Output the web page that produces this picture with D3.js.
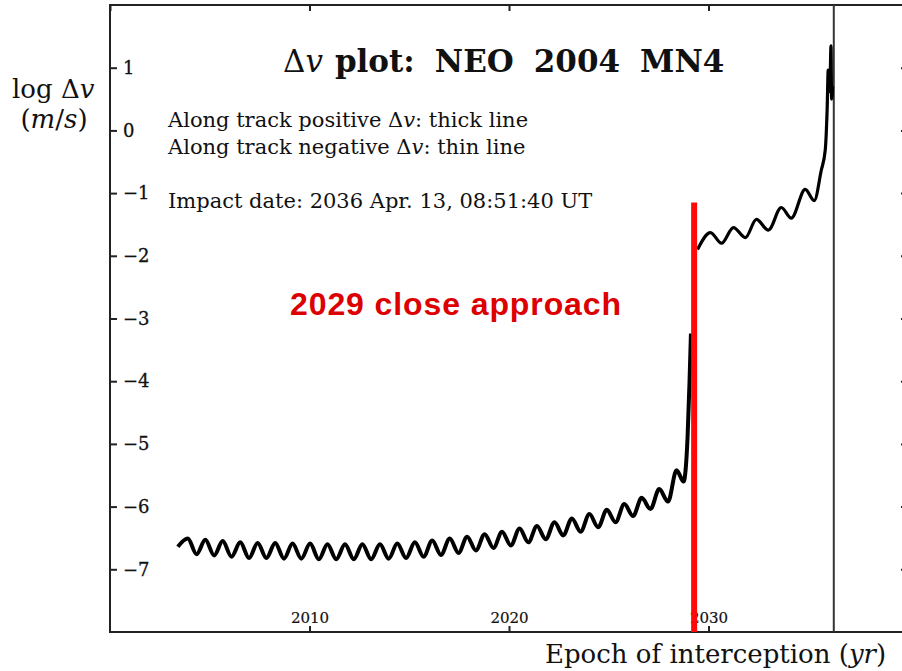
<html>
<head>
<meta charset="utf-8">
<title>Delta v plot NEO 2004 MN4</title>
<script src="https://d3js.org/d3.v7.min.js" charset="utf-8"></script>
<style>
  body { margin: 0; background: #fff; }
  text { font-family: "DejaVu Serif", serif; fill: #111; }
</style>
</head>
<body>
<script>
var width = 902,
    height = 671;

// log dv before the 2029 close approach (peaks and troughs)
var preYears = [2003.40, 2003.90, 2004.34, 2004.78, 2005.22, 2005.65, 2006.09, 2006.53, 2006.97, 2007.40,
  2007.84, 2008.28, 2008.72, 2009.15, 2009.59, 2010.03, 2010.47, 2010.90, 2011.34, 2011.78,
  2012.22, 2012.65, 2013.09, 2013.53, 2013.97, 2014.40, 2014.84, 2015.28, 2015.72, 2016.15,
  2016.59, 2017.03, 2017.47, 2017.90, 2018.34, 2018.78, 2019.22, 2019.65, 2020.09, 2020.53,
  2020.97, 2021.40, 2021.84, 2022.28, 2022.72, 2023.15, 2023.59, 2024.03, 2024.47, 2024.90,
  2025.34, 2025.78, 2026.22, 2026.65, 2027.09, 2027.53, 2027.97, 2028.40, 2028.75, 2028.95,
  2029.05, 2029.12];
var preVals = [-6.64, -6.51, -6.76, -6.53, -6.78, -6.55, -6.80, -6.57, -6.82, -6.58,
  -6.82, -6.58, -6.83, -6.59, -6.83, -6.59, -6.84, -6.60, -6.84, -6.60,
  -6.84, -6.60, -6.84, -6.60, -6.83, -6.59, -6.82, -6.57, -6.80, -6.54,
  -6.77, -6.51, -6.74, -6.48, -6.70, -6.44, -6.66, -6.40, -6.62, -6.35,
  -6.57, -6.31, -6.52, -6.25, -6.46, -6.19, -6.40, -6.12, -6.33, -6.05,
  -6.25, -5.96, -6.15, -5.86, -6.04, -5.72, -5.92, -5.42, -5.60, -4.90,
  -4.00, -3.24];

// log dv after the close approach, up to the impact
var postYears = [2029.45, 2030.10, 2030.65, 2031.25, 2031.85, 2032.40, 2033.00, 2033.65, 2034.15, 2034.85,
  2035.30, 2035.65, 2035.85, 2035.95, 2036.00, 2036.08, 2036.14, 2036.17, 2036.22];
var postVals = [-1.90, -1.63, -1.80, -1.55, -1.71, -1.42, -1.59, -1.23, -1.40, -0.94,
  -1.12, -0.64, -0.32, 0.37, 0.96, 0.62, 1.35, 0.50, 0.70];

var yTicks = [-7, -6, -5, -4, -3, -2, -1, 0, 1];
var xTicks = [2010, 2020, 2030];
var frameTicksX = [2000, 2010, 2020, 2030, 2040];

var closeApproachYear = 2029.28,
    closeApproachTop = -1.15,
    impactYear = 2036.28;

var x = d3.scaleLinear().domain([2000, 2040]).range([110, 908]);
var y = d3.scaleLinear().domain([-8, 2]).range([632, 5]);

var svg = d3.select("body").append("svg")
    .attr("width", width)
    .attr("height", height);

// frame
svg.append("rect")
    .attr("x", x(2000)).attr("y", y(2))
    .attr("width", x(2040) - x(2000)).attr("height", y(-8) - y(2))
    .attr("fill", "none").attr("stroke", "#222").attr("stroke-width", 2);

var fmt = function(d) { return d < 0 ? "\u2212" + (-d) : "" + d; };

// left axis, ticks and labels inside the frame
var gl = svg.append("g").attr("transform", "translate(" + x(2000) + ",0)")
    .call(d3.axisLeft(y).tickValues(yTicks).tickSize(-7).tickFormat(fmt));
gl.select(".domain").remove();
gl.selectAll("text").attr("x", 13).attr("text-anchor", "start")
    .style("font-family", "DejaVu Serif, serif").style("font-size", "18px")
    .attr("stroke", "#111").attr("stroke-width", 0.3);

var gr = svg.append("g").attr("transform", "translate(" + x(2040) + ",0)")
    .call(d3.axisRight(y).tickValues(yTicks).tickSize(-7).tickFormat(""));
gr.select(".domain").remove();

var gb = svg.append("g").attr("transform", "translate(0," + y(-8) + ")")
    .call(d3.axisBottom(x).tickValues(xTicks).tickSize(-6).tickFormat(d3.format("d")));
gb.select(".domain").remove();
gb.selectAll("text").attr("y", -9).attr("dy", 0)
    .style("font-family", "DejaVu Serif, serif").style("font-size", "15px")
    .attr("stroke", "#111").attr("stroke-width", 0.2);

var gt = svg.append("g").attr("transform", "translate(0," + y(2) + ")")
    .call(d3.axisTop(x).tickValues(frameTicksX).tickSize(-6).tickFormat(""));
gt.select(".domain").remove();

svg.selectAll(".tick line").attr("stroke", "#222").attr("stroke-width", 2);

// impact epoch
svg.append("line")
    .attr("x1", x(impactYear)).attr("x2", x(impactYear))
    .attr("y1", y(2)).attr("y2", y(-8))
    .attr("stroke", "#333").attr("stroke-width", 2);

// curves
var line = d3.line()
    .x(function(d) { return x(d[0]); })
    .y(function(d) { return y(d[1]); })
    .curve(d3.curveMonotoneX);

var pre = preYears.map(function(t, i) { return [t, preVals[i]]; });
var post = postYears.map(function(t, i) { return [t, postVals[i]]; });

svg.append("path").datum(pre).attr("d", line)
    .attr("fill", "none").attr("stroke", "#000").attr("stroke-width", 4)
    .attr("stroke-linejoin", "round");
svg.append("path").datum(post).attr("d", line)
    .attr("fill", "none").attr("stroke", "#000").attr("stroke-width", 3.2)
    .attr("stroke-linejoin", "round");

// 2029 close approach marker
svg.append("line")
    .attr("x1", x(closeApproachYear)).attr("x2", x(closeApproachYear))
    .attr("y1", y(closeApproachTop)).attr("y2", y(-8))
    .attr("stroke", "#ff0a0a").attr("stroke-width", 6);

svg.append("text")
    .attr("x", 290).attr("y", 315)
    .style("font-family", "Liberation Sans, Arial, sans-serif")
    .style("font-weight", "bold").style("font-size", "32px").style("letter-spacing", "0.9px")
    .style("fill", "#dc0000")
    .text("2029 close approach");

// title
var title = svg.append("text").attr("x", 283).attr("y", 72)
    .style("font-size", "31px").style("font-weight", "bold");
title.append("tspan").style("font-weight", "normal").text("\u0394");
title.append("tspan").style("font-style", "italic").style("font-weight", "normal").text("v");
title.append("tspan").attr("dx", 12).text("plot:");
title.append("tspan").attr("dx", 20).text("NEO");
title.append("tspan").attr("dx", 20).text("2004");
title.append("tspan").attr("dx", 20).text("MN4");

// legend lines
var l1 = svg.append("text").attr("x", 168).attr("y", 127).style("font-size", "21px");
l1.append("tspan").text("Along track positive \u0394");
l1.append("tspan").style("font-style", "italic").text("v");
l1.append("tspan").text(": thick line");

var l2 = svg.append("text").attr("x", 168).attr("y", 154).style("font-size", "21px");
l2.append("tspan").text("Along track negative \u0394");
l2.append("tspan").style("font-style", "italic").text("v");
l2.append("tspan").text(": thin line");

svg.append("text").attr("x", 168).attr("y", 208).style("font-size", "21px")
    .text("Impact date: 2036 Apr. 13, 08:51:40 UT");

// y axis label
var yl = svg.append("text").attr("x", 12).attr("y", 98).style("font-size", "26px");
yl.append("tspan").text("log \u0394");
yl.append("tspan").style("font-style", "italic").text("v");

var yl2 = svg.append("text").attr("x", 54).attr("y", 128).attr("text-anchor", "middle")
    .style("font-size", "26px");
yl2.append("tspan").text("(");
yl2.append("tspan").style("font-style", "italic").text("m");
yl2.append("tspan").text("/");
yl2.append("tspan").style("font-style", "italic").text("s");
yl2.append("tspan").text(")");

// x axis label
var xl = svg.append("text").attr("x", 545).attr("y", 663).style("font-size", "26px");
xl.append("tspan").text("Epoch of interception (");
xl.append("tspan").style("font-style", "italic").text("yr");
xl.append("tspan").text(")");
</script>
</body>
</html>
